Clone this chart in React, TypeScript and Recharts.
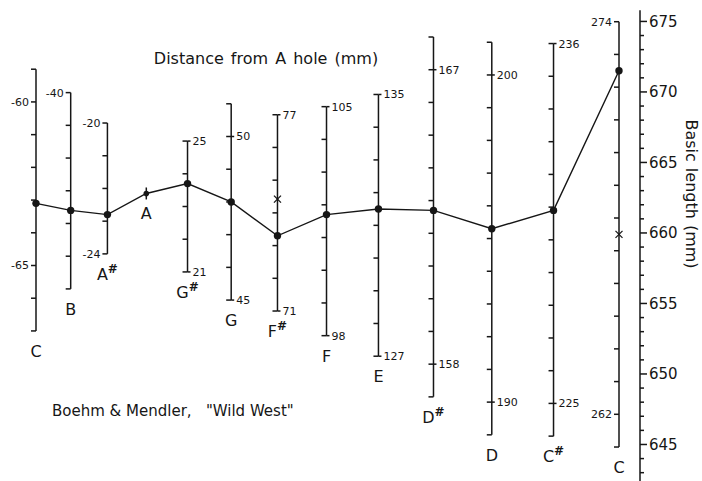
import React from 'react';
import { ComposedChart, Line, Scatter, XAxis, YAxis, ReferenceLine } from 'recharts';

// Holes, left to right (highest note first)
const holeNames = ['C', 'B', 'A#', 'A', 'G#', 'G', 'F#', 'F', 'E', 'D#', 'D', 'C#', 'C'];
// Equal-tempered length ratio of each hole (horizontal placement of the scales)
const pitchRatios = [1.0, 1.0595, 1.1225, 1.1892, 1.2599, 1.3348, 1.4142, 1.4983, 1.5874, 1.6818, 1.7818, 1.8877, 2.0];
// Hole position read on each scale: distance from A hole (mm)
const holeDistances = [-63.1, -43.6, -22.8, 0, 23.7, 48.0, 73.3, 101.7, 131.5, 162.7, 195.3, 230.9, 272.5];
// Basic length (mm) of each hole's point
const basicLengths = [662.1, 661.6, 661.3, 662.8, 663.5, 662.2, 659.8, 661.3, 661.7, 661.6, 660.3, 661.6, 671.5];
// Extent of each distance scale (mm)
const scaleTops: (number | null)[] = [-59, -40, -20, null, 25, 51, 77, 105, 135, 168, 201, 236, 274];
const scaleBottoms: (number | null)[] = [-67, -46, -24, null, 21, 45, 71, 98, 127, 157, 189, 224, 261];
// Numbered values on each distance scale
const scaleLabels: number[][] = [[-60, -65], [-40], [-20, -24], [], [25, 21], [50, 45], [77, 71], [105, 98], [135, 127], [167, 158], [200, 190], [236, 225], [274, 262]];
const labelSides = ['left', 'left', 'left', '', 'right', 'right', 'right', 'right', 'right', 'right', 'right', 'right', 'left'];
// Cross marks (x) on F# and low C scales
const crossHoleIdx = [6, 12];
const crossLengths = [662.4, 659.9];
// Basic length per mm of hole distance on the nomogram scales
const SCALE_FACTOR = 2.32;
// Right axis
const basicTicks = [643, 644, 645, 646, 647, 648, 649, 650, 651, 652, 653, 654, 655, 656, 657, 658, 659, 660, 661, 662, 663, 664, 665, 666, 667, 668, 669, 670, 671, 672, 673, 674, 675];
const Y_DOMAIN: [number, number] = [642.41, 676.52];
const X_DOMAIN: [number, number] = [0.93825, 2.03602];
const AXIS_TOP = 675.8;

const INK = '#161616';
const SW = 1.5;
const FONT = '"DejaVu Sans", sans-serif';

const mainData = holeNames.map((name, i) => ({ name, x: pitchRatios[i], y: basicLengths[i] }));
const crossData = crossHoleIdx.map((h, j) => ({ x: pitchRatios[h], y: crossLengths[j] }));

type Mark = { x: number; y: number; kind: string; side?: string; text?: string };
const scaleMarks: Mark[] = [];
const scaleSegments: { x: number; top: number; bottom: number }[] = [];
holeNames.forEach((name, i) => {
  const x = pitchRatios[i];
  const at = (d: number) => basicLengths[i] + (d - holeDistances[i]) * SCALE_FACTOR;
  const top = scaleTops[i];
  const bottom = scaleBottoms[i];
  if (top !== null && bottom !== null) {
    scaleSegments.push({ x, top: at(top), bottom: at(bottom) });
    for (let d = bottom; d <= top; d++) scaleMarks.push({ x, y: at(d), kind: 'tick' });
    scaleLabels[i].forEach((v) => scaleMarks.push({ x, y: at(v), kind: 'label', side: labelSides[i], text: String(v) }));
    scaleMarks.push({ x, y: at(bottom), kind: 'name', text: name });
  } else {
    scaleMarks.push({ x, y: basicLengths[i], kind: 'name', text: name });
  }
});

const ScaleMark = (props: any) => {
  const { cx, cy, payload } = props;
  if (cx == null || cy == null) return null;
  if (payload.kind === 'tick') {
    return <line x1={cx - 5} y1={cy} x2={cx} y2={cy} stroke={INK} strokeWidth={SW} />;
  }
  if (payload.kind === 'label') {
    if (payload.side === 'left') {
      return (
        <text x={cx - 7} y={cy} dy="0.36em" textAnchor="end" fontSize={11} fontFamily={FONT} fill={INK}>
          {payload.text}
        </text>
      );
    }
    return (
      <g>
        <line x1={cx} y1={cy} x2={cx + 3} y2={cy} stroke={INK} strokeWidth={SW} />
        <text x={cx + 5} y={cy} dy="0.36em" textAnchor="start" fontSize={11} fontFamily={FONT} fill={INK}>
          {payload.text}
        </text>
      </g>
    );
  }
  const t: string = payload.text;
  const sharp = t.endsWith('#');
  return (
    <text x={cx} y={cy + 26} textAnchor="middle" fontSize={16} fontFamily={FONT} fill={INK}>
      {sharp ? t[0] : t}
      {sharp && (
        <tspan dy={-7} fontSize={12} fontWeight="bold">#</tspan>
      )}
    </text>
  );
};

const CrossMark = (props: any) => {
  const { cx, cy } = props;
  if (cx == null || cy == null) return null;
  const s = 3.5;
  return (
    <g stroke={INK} strokeWidth={1.3}>
      <line x1={cx - s} y1={cy - s} x2={cx + s} y2={cy + s} />
      <line x1={cx - s} y1={cy + s} x2={cx + s} y2={cy - s} />
    </g>
  );
};

const HoleDot = (props: any) => {
  const { cx, cy, payload, index } = props;
  if (payload && payload.name === 'A') {
    return (
      <g key={`dot-${index}`}>
        <line x1={cx} y1={cy - 6} x2={cx} y2={cy + 6} stroke={INK} strokeWidth={SW} />
        <circle cx={cx} cy={cy} r={2.8} fill={INK} />
      </g>
    );
  }
  return <circle key={`dot-${index}`} cx={cx} cy={cy} r={3.7} fill={INK} />;
};

const BasicTick = (props: any) => {
  const { x, y, payload } = props;
  const v = payload.value;
  const major = v % 5 === 0;
  return (
    <g>
      <line x1={x} y1={y} x2={x + (major ? 7 : 4)} y2={y} stroke={INK} strokeWidth={SW} />
      {major && (
        <text x={x + 9} y={y} dy="0.36em" textAnchor="start" fontSize={15} fontFamily={FONT} fill={INK}>
          {v}
        </text>
      )}
    </g>
  );
};

export default function App() {
  return (
    <div style={{ position: 'absolute', left: 0, top: 0, width: 702, height: 481, background: '#fff' }}>
      <ComposedChart width={702} height={481} data={mainData} margin={{ top: 0, right: 0, bottom: 0, left: 0 }}>
        <XAxis type="number" dataKey="x" domain={X_DOMAIN} allowDataOverflow hide />
        <YAxis
          type="number"
          dataKey="y"
          orientation="right"
          width={62}
          domain={Y_DOMAIN}
          allowDataOverflow
          ticks={basicTicks}
          interval={0}
          axisLine={false}
          tickLine={false}
          tickSize={0}
          tickMargin={0}
          tick={BasicTick}
        />
        <ReferenceLine
          segment={[{ x: X_DOMAIN[1], y: AXIS_TOP }, { x: X_DOMAIN[1], y: Y_DOMAIN[0] }]}
          stroke={INK}
          strokeWidth={SW}
          ifOverflow="visible"
        />
        {scaleSegments.map((s, i) => (
          <ReferenceLine
            key={`seg-${i}`}
            segment={[{ x: s.x, y: s.top }, { x: s.x, y: s.bottom }]}
            stroke={INK}
            strokeWidth={SW}
            ifOverflow="visible"
          />
        ))}
        <Line
          type="linear"
          dataKey="y"
          stroke={INK}
          strokeWidth={1.4}
          dot={HoleDot}
          activeDot={false}
          isAnimationActive={false}
        />
        <Scatter data={scaleMarks} dataKey="y" shape={ScaleMark} isAnimationActive={false} />
        <Scatter data={crossData} dataKey="y" shape={CrossMark} isAnimationActive={false} />
        <text x={266} y={64} textAnchor="middle" fontSize={16} fontFamily={FONT} fill={INK} wordSpacing={2}>
          Distance from A hole (mm)
        </text>
        <text x={52} y={416} textAnchor="start" fontSize={15} fontFamily={FONT} fill={INK} style={{ whiteSpace: 'pre' }}>
          {'Boehm & Mendler,   "Wild West"'}
        </text>
        <text
          x={692}
          y={194}
          dy="0.36em"
          textAnchor="middle"
          fontSize={16}
          fontFamily={FONT}
          fill={INK}
          transform="rotate(90, 692, 194)"
          wordSpacing={1}
        >
          Basic length (mm)
        </text>
      </ComposedChart>
    </div>
  );
}
